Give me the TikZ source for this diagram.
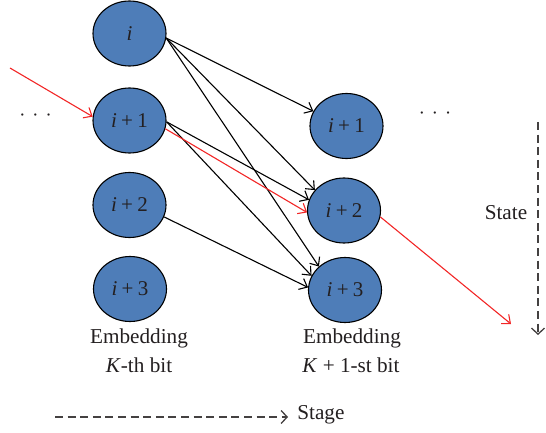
\documentclass[tikz,border=0pt]{standalone}
\usepackage{fontspec}
\setmainfont{Liberation Serif}
\usetikzlibrary{shapes.geometric,arrows.meta}
\definecolor{stateblue}{RGB}{78,125,184}
\definecolor{inkgray}{RGB}{35,31,32}
\definecolor{pathred}{RGB}{242,38,38}
\newcommand{\idx}[1]{\textit{i}\hspace{2.2pt}+\hspace{2.2pt}#1}
\newcommand{\tripledot}{$\cdot$\hspace{3.5pt}$\cdot$\hspace{3.5pt}$\cdot$}
\begin{document}
\begin{tikzpicture}[x=0.5pt,y=-0.5pt,
  statenode/.style={ellipse,draw=black,line width=0.55pt,fill=stateblue,
    minimum width=36.5pt,minimum height=32.5pt,inner sep=0pt,
    font=\fontsize{10.5}{12}\selectfont,text=inkgray},
  link/.style={line width=0.55pt,-{Straight Barb[length=3.5pt,width=6pt]}},
  redlink/.style={link,draw=pathred},
  dimaxis/.style={line width=0.65pt,draw=inkgray!85,dash pattern=on 4pt off 2.3pt,
    -{Straight Barb[length=3pt,width=6.5pt]}},
  txt/.style={font=\fontsize{10.6}{12}\selectfont,text=inkgray,inner sep=0pt}]
\useasboundingbox (0,0) rectangle (546,433);

% states of stage K
\node[statenode] (L0) at (129.5,33.5) {\textit{i}};
\node[statenode] (L1) at (129.5,120.5) {\idx{1}};
\node[statenode] (L2) at (129.5,205) {\idx{2}};
\node[statenode] (L3) at (130,289) {\idx{3}};
% states of stage K+1
\node[statenode] (R1) at (346.5,126) {\idx{1}};
\node[statenode] (R2) at (344,210.5) {\idx{2}};
\node[statenode] (R3) at (345,290) {\idx{3}};

% transitions
\draw[link] (L0.-7) -- (R1.156);
\draw[link] (L0.-7) -- (R2.145);
\draw[link] (L0.-7) -- (R3.138);
\draw[link] (L1.-2) -- (R2.163);
\draw[link] (L1.-2) -- (R3.157);
\draw[link] (L2.-19) -- (R3.176);

% chosen path
\coordinate (redin) at (10,68);
\coordinate (redout) at (511,324);
\draw[redlink] (redin) -- (L1.174);
\draw[redlink] (L1.-13) -- (R2.183);
\draw[redlink] (R2.-10) -- (redout);

% ellipsis marks
\node[txt] (dotsL) at (35.5,116) {\tripledot};
\node[txt] (dotsR) at (435,114) {\tripledot};

% stage captions
\node[txt] (capLa) at (139,338) {Embedding};
\node[txt] (capLb) at (139,365) {\textit{K}-th bit};
\node[txt] (capRa) at (352,338) {Embedding};
\node[txt] (capRb) at (351,365) {\textit{K} + 1-st bit};

% axes
\node[txt] (statelbl) at (506,213) {State};
\coordinate (sTop) at (538,122);
\coordinate (sBot) at (538,335);
\draw[dimaxis] (sTop) -- (sBot);

\node[txt,anchor=west] (stage) at (297,415) {Stage};
\coordinate (gL) at (55,417);
\draw[dimaxis] (gL) -- ([xshift=-4.5pt]stage.west |- gL);
\end{tikzpicture}
\end{document}
